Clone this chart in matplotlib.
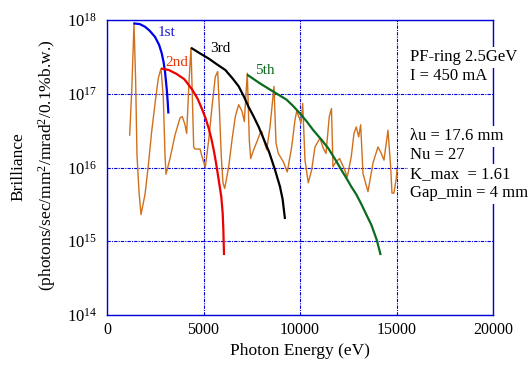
import matplotlib
matplotlib.use("Agg")
import matplotlib.pyplot as plt

plt.rcParams['font.family'] = ['Liberation Serif', 'DejaVu Serif']
plt.rcParams['mathtext.fontset'] = 'custom'
plt.rcParams['mathtext.rm'] = 'Liberation Serif'
plt.rcParams['mathtext.it'] = 'Liberation Serif:italic'

# ---- data (photon energy in eV, brilliance) ----
spec_E = [1174, 1280, 1399, 1485, 1554, 1658, 1762, 1969, 2142, 2316, 2523, 2658, 2798,
          2919, 3005, 3057, 3264, 3523, 3782, 3902, 4041, 4128, 4249, 4352, 4492, 4559,
          4818, 4922, 5093, 5269, 5440, 5611, 5735, 5818, 5922, 6010, 6098, 6305, 6476,
          6647, 6823, 6994, 7114, 7269, 7373, 7445, 7600, 7772, 7942, 8015, 8186, 8274,
          8445, 8585, 8652, 8756, 8875, 9134, 9341, 9569, 9740, 9828, 9963, 10051, 10139,
          10258, 10429, 10605, 10776, 11035, 11206, 11346, 11517, 11631, 11709, 11865,
          12056, 12315, 12450, 12657, 12797, 12916, 13040, 13144, 13263, 13522, 13781,
          14040, 14211, 14351, 14558, 14698, 14766, 14869, 14988, 15025]
spec_B = [2.75e16, 1.07e17, 9.0e17, 1.45e17, 1.48e16, 4.7e15, 2.3e15, 4.3e15, 1.07e16,
          3.1e16, 8.7e16, 1.62e17, 2.2e17, 8.7e16, 1.48e16, 8.1e15, 1.32e16, 2.75e16,
          4.7e16, 4.9e16, 3.8e16, 2.9e16, 1.45e17, 4.2e17, 1.9e16, 1.78e16, 1.78e16,
          1.41e16, 1.0e16, 2.35e16, 6.6e16, 1.7e17, 2.0e17, 6.6e16, 1.41e16, 6.2e15,
          5.2e15, 1.02e16, 2.35e16, 4.9e16, 7.1e16, 5.8e16, 4.2e16, 1.9e17, 2.35e16,
          1.32e16, 1.74e16, 2.25e16, 2.95e16, 3.1e16, 2.05e16, 1.74e16, 3.55e16, 8.3e16,
          1.26e17, 2.15e16, 1.55e16, 1.2e16, 8.7e15, 1.9e16, 4.4e16, 5.8e16, 4.7e16,
          4.0e16, 7.4e16, 1.26e16, 6.2e15, 9.3e15, 1.9e16, 2.5e16, 1.82e16, 1.55e16,
          4.9e16, 6.3e16, 1.02e16, 1.2e16, 1.32e16, 9.3e15, 7.4e15, 1.41e16, 2.9e16,
          3.55e16, 2.6e16, 3.8e16, 8.3e15, 4.7e15, 1.15e16, 1.9e16, 1.55e16, 1.26e16,
          3.2e16, 1.02e16, 4.5e15, 4.5e15, 7.1e15, 9.3e15]

h1_E = [1364, 1700, 1969, 2200, 2487, 2700, 2834, 2930, 3005, 3093, 3145, 3180]
h1_B = [9.0e17, 8.8e17, 8.1e17, 7.2e17, 5.9e17, 4.6e17, 3.55e17, 2.7e17, 2.0e17,
        1.17e17, 7.8e16, 5.4e16]

h2_E = [2798, 3200, 3600, 4000, 4404, 4700, 4922, 5100, 5269, 5400, 5528, 5650, 5787,
        5922, 5994, 6030, 6062]
h2_B = [2.2e17, 2.1e17, 1.86e17, 1.58e17, 1.15e17, 8.5e16, 6.2e16, 4.7e16, 3.4e16,
        2.5e16, 1.74e16, 1.15e16, 6.8e15, 4.0e15, 2.4e15, 1.4e15, 6.5e14]

h3_E = [4352, 4800, 5269, 5700, 6130, 6500, 6823, 7100, 7341, 7600, 7859, 8100, 8400,
        8704, 8963, 9100, 9222]
h3_B = [4.2e17, 3.55e17, 3.0e17, 2.5e17, 2.1e17, 1.62e17, 1.26e17, 9.1e16, 6.6e16,
        4.9e16, 3.55e16, 2.5e16, 1.62e16, 9.3e15, 5.5e15, 3.7e15, 2.0e15]

h5_E = [7254, 7600, 7927, 8617, 9307, 9650, 10000, 10350, 10690, 11100, 11466, 11800,
        12140, 12400, 12657, 12920, 13175, 13455, 13700, 13973, 14180]
h5_B = [1.82e17, 1.58e17, 1.38e17, 1.07e17, 8.3e16, 6.8e16, 5.4e16, 4.2e16, 3.2e16,
        2.4e16, 1.82e16, 1.32e16, 9.3e15, 7.2e15, 5.5e15, 4.3e15, 3.2e15, 2.25e15,
        1.66e15, 1.05e15, 6.5e14]

x_ticks = [0, 5000, 10000, 15000, 20000]
x_tick_labels = ['0', '5000', '10000', '15000', '20000']
y_ticks = [1e14, 1e15, 1e16, 1e17, 1e18]
y_tick_labels = [r'$\mathregular{10^{14}}$', r'$\mathregular{10^{15}}$',
                 r'$\mathregular{10^{16}}$', r'$\mathregular{10^{17}}$',
                 r'$\mathregular{10^{18}}$']
harmonic_labels = ['1st', '2nd', '3rd', '5th']
info_top = ['PF-ring 2.5GeV', 'I = 450 mA']
info_bottom = ['\u03bbu = 17.6 mm', 'Nu = 27', 'K_max  = 1.61', 'Gap_min = 4 mm']

W, H = 529, 365
fig = plt.figure(figsize=(W / 100, H / 100), dpi=100)
ax = fig.add_axes([107 / W, 50 / H, 386 / W, 295 / H])

ax.plot(spec_E, spec_B, color='#D0701C', lw=1.0, zorder=3)
ax.plot(h1_E, h1_B, color='#0000EE', lw=1.6, zorder=4, solid_capstyle='butt')
ax.plot(h2_E, h2_B, color='#EE0000', lw=1.6, zorder=4, solid_capstyle='butt')
ax.plot(h3_E, h3_B, color='black', lw=1.6, zorder=4, solid_capstyle='butt')
ax.plot(h5_E, h5_B, color='#0B6B1E', lw=1.6, zorder=4, solid_capstyle='butt')

ax.set_yscale('log')
ax.set_xlim(0, 20000)
ax.set_ylim(1e14, 1e18)
ax.set_xticks(x_ticks)
ax.set_xticklabels(x_tick_labels)
ax.set_yticks(y_ticks)
ax.set_yticklabels(y_tick_labels)
ax.minorticks_off()
ax.tick_params(axis='both', length=0, labelsize=12, colors='black')
ax.tick_params(axis='x', pad=5, labelsize=11.5)
ax.tick_params(axis='y', pad=7)
ax.grid(True, color='#0000DD', lw=0.8, linestyle=(0, (3, 1, 1, 1)))
for s in ax.spines.values():
    s.set_color('#0000DD')
    s.set_linewidth(1.0)

fig.text(300 / W, 1 - 351 / H, 'Photon Energy (eV)', ha='center', va='center', fontsize=12.5)
fig.text(18 / W, 1 - 167 / H, 'Brilliance', ha='center', va='center', rotation=90, fontsize=12.5)
fig.text(47 / W, 1 - 165 / H, r'(photons/sec/mm$^2$/mrad$^2$/0.1%b.w.)', ha='center',
         va='center', rotation=90, fontsize=12.5)

lab_pos = [(167, 33), (176.5, 62), (220.5, 48), (264.5, 71)]
lab_col = ['#1A1AD0', '#E8380A', 'black', '#0B6B1E']
for t, (px, py), c in zip(harmonic_labels, lab_pos, lab_col):
    fig.text(px / W, 1 - py / H, t, ha='center', va='center', fontsize=11, color=c, zorder=6)

for i, t in enumerate(info_top):
    fig.text(410 / W, 1 - (57 + 19 * i) / H, t, ha='left', va='center', fontsize=12,
             bbox=dict(boxstyle='square,pad=0.15', fc='white', ec='none'), zorder=10)
for i, t in enumerate(info_bottom):
    fig.text(410 / W, 1 - (136 + 19 * i) / H, t, ha='left', va='center', fontsize=12,
             bbox=dict(boxstyle='square,pad=0.15', fc='white', ec='none'), zorder=10)

fig.savefig('out.png', dpi=100)
